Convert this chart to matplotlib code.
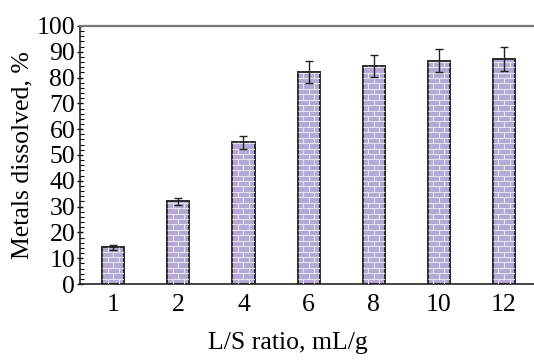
import numpy as np
import matplotlib.pyplot as plt
from matplotlib.ticker import MultipleLocator

# data
ratios = ['1', '2', '4', '6', '8', '10', '12']
dissolved = [14.3, 32.0, 55.0, 82.0, 84.5, 86.5, 87.3]
errors = [1.0, 1.5, 2.5, 4.3, 4.4, 4.4, 4.6]

plt.rcParams['font.family'] = ['Liberation Serif', 'DejaVu Serif']

fig = plt.figure(figsize=(5.34, 3.6), dpi=100)
ax = fig.add_axes([0.150, 0.211, 0.850, 0.717])

x = np.arange(len(ratios))
bar_w = 0.34
bars = ax.bar(x, dissolved, width=bar_w, color='#b4a8d4', edgecolor='#2a2a2a',
              linewidth=1.4, zorder=2)
ax.errorbar(x, dissolved, yerr=errors, fmt='none', ecolor='#222222',
            elinewidth=1.0, capsize=3, capthick=1.0, zorder=4)

# brick pattern inside each bar (white mortar lines, clipped to the bar)
row_h = 2.1
brick_w = bar_w / 2
for i, b in enumerate(bars):
    h = b.get_height()
    x0 = b.get_x()
    rows = np.arange(row_h, h, row_h)
    ln = ax.hlines(rows, x0, x0 + bar_w, colors='#e6e2f0', linewidth=0.8, zorder=3)
    ln.set_clip_path(b)
    segs_x, segs_y0, segs_y1 = [], [], []
    for r, y0 in enumerate(np.arange(0, h, row_h)):
        off = 0 if r % 2 == 0 else brick_w / 2
        for xv in np.arange(x0 + off + brick_w / 2, x0 + bar_w, brick_w):
            segs_x.append(xv)
            segs_y0.append(y0)
            segs_y1.append(min(y0 + row_h, h))
    vl = ax.vlines(segs_x, segs_y0, segs_y1, colors='#e6e2f0', linewidth=0.8, zorder=3)
    vl.set_clip_path(b)

ax.set_xlim(-0.508, 6.46)
ax.set_ylim(0, 100)
ax.set_xticks(x)
ax.set_xticklabels(ratios)
ax.yaxis.set_major_locator(MultipleLocator(10))
ax.yaxis.set_minor_locator(MultipleLocator(2))

ax.tick_params(axis='x', length=0, pad=7, labelsize=18.5)
ax.tick_params(axis='y', which='major', direction='inout', length=5, width=1,
               labelsize=18.5, pad=1)
ax.tick_params(axis='y', which='minor', direction='in', length=3, width=0.8)

ax.spines['right'].set_visible(False)
ax.spines['top'].set_color('#777777')
ax.spines['top'].set_linewidth(1.6)
ax.spines['left'].set_color('#222222')
ax.spines['bottom'].set_color('#222222')
ax.spines['left'].set_linewidth(1.2)
ax.spines['bottom'].set_linewidth(1.2)

ax.set_xlabel('L/S ratio, mL/g', fontsize=18.5)
ax.xaxis.set_label_coords(0.458, -0.185)
ax.set_ylabel('Metals dissolved, %', fontsize=18.5, labelpad=2)

fig.savefig('out.png', dpi=100)
